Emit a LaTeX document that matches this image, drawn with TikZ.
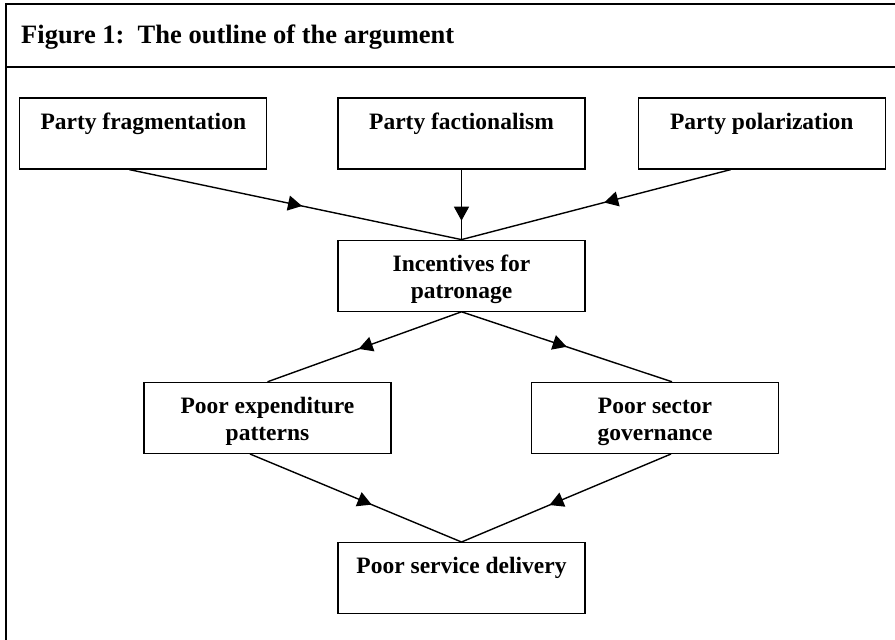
\documentclass[tikz,border=0pt]{standalone}
\usepackage{fontspec}
\setmainfont{Liberation Serif}
\usetikzlibrary{arrows.meta, positioning, decorations.markings}
\newcommand{\boxtext}[1]{\parbox[c][71pt][t]{247pt}{\centering\rule{0pt}{31pt}#1}}

\begin{document}
\begin{tikzpicture}[
    x=1pt, y=-1pt,
    box/.style={rectangle, draw, line width=1.2pt, inner sep=0pt, font=\fontsize{23.5}{27}\selectfont\bfseries},
    link/.style={line width=1.4pt},
    midarrow/.style={link, postaction={decorate}, decoration={markings, mark=at position #1 with {\arrow{Triangle[length=14pt, width=15pt]}}}},
    frame/.style={line width=2.4pt},
]
\useasboundingbox (0,0) rectangle (895,640);

% frame and title
\draw[frame] (6,640) -- (6,4) -- (895,4);
\draw[frame] (6,67) -- (895,67);
\node[anchor=base west, inner sep=0pt, font=\fontsize{26.5}{30}\selectfont\bfseries] (title) at (21,43) {Figure 1:\ \ The outline of the argument};

% boxes
\node[box] (fact) at (461.5,133.5) {\boxtext{Party factionalism}};
\node[box, left=70pt of fact] (frag) {\boxtext{Party fragmentation}};
\node[box, right=52pt of fact] (pol) {\boxtext{Party polarization}};
\node[box, below=70pt of fact] (inc) {\boxtext{Incentives for\\patronage}};
\node[box, below=70pt of inc, xshift=-194pt] (exp) {\boxtext{Poor expenditure\\patterns}};
\node[box, below=70pt of inc, xshift=193.5pt] (gov) {\boxtext{Poor sector\\governance}};
\node[box, below=88pt of exp, xshift=194pt] (del) {\boxtext{Poor service delivery}};

% connectors
\draw[midarrow=0.52] ([xshift=-14pt]frag.south) -- (inc.north);
\draw[midarrow=0.73] (fact) -- (inc);
\draw[midarrow=0.47] ([xshift=-31pt]pol.south) -- (inc.north);
\draw[midarrow=0.53] (inc.south) -- (exp.north);
\draw[midarrow=0.5] (inc.south) -- ([xshift=17pt]gov.north);
\draw[midarrow=0.575] ([xshift=-17.5pt]exp.south) -- (del.north);
\draw[midarrow=0.58] ([xshift=16pt]gov.south) -- (del.north);

\end{tikzpicture}
\end{document}
